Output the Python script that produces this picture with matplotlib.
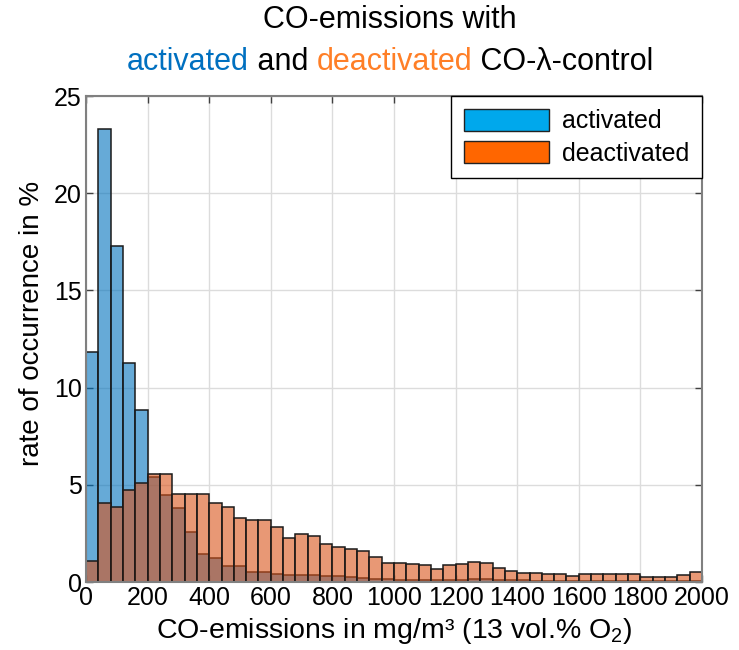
import matplotlib
matplotlib.use('Agg')
import matplotlib.pyplot as plt
import numpy as np
from matplotlib.patches import Patch

plt.rcParams['font.family'] = ['Liberation Sans', 'DejaVu Sans']
plt.rcParams['mathtext.fontset'] = 'custom'
plt.rcParams['mathtext.rm'] = 'Liberation Sans'
plt.rcParams['mathtext.default'] = 'regular'

# histogram bins (mg/m3), 40 wide
bin_edges = np.arange(0, 2001, 40)

# rate of occurrence in % per bin
activated = [11.85, 23.3, 17.27, 11.27, 8.87, 5.4, 4.46, 3.83, 2.58, 1.42,
             1.23, 0.82, 0.80, 0.53, 0.53, 0.43, 0.38, 0.38, 0.38, 0.32,
             0.29, 0.26, 0.2, 0.15, 0.15, 0.12, 0.12, 0.12, 0.12, 0.12,
             0.12, 0.15, 0.15, 0.1, 0.08, 0.08, 0.06, 0.06, 0.05, 0.05,
             0.05, 0.05, 0.05, 0.04, 0.04, 0.04, 0.04, 0.04, 0.04, 0.05]
deactivated = [1.08, 4.07, 3.85, 4.72, 5.1, 5.54, 5.57, 4.55, 4.55, 4.55,
               4.08, 3.85, 3.28, 3.19, 3.19, 2.82, 2.24, 2.45, 2.37, 1.95,
               1.81, 1.68, 1.59, 1.27, 0.99, 0.96, 0.91, 0.86, 0.68, 0.86,
               0.94, 1.01, 1.0, 0.72, 0.56, 0.48, 0.48, 0.39, 0.39, 0.31,
               0.39, 0.39, 0.39, 0.39, 0.39, 0.27, 0.27, 0.27, 0.36, 0.50]

labels = ['activated', 'deactivated']
x_ticks = list(range(0, 2001, 200))
y_ticks = [0, 5, 10, 15, 20, 25]

fig = plt.figure(figsize=(7.39, 6.5), dpi=100)
ax = fig.add_axes([86/739, 68/650, 616/739, 486/650])

centers = bin_edges[:-1] + 20
ax.hist(centers, bins=bin_edges, weights=activated,
        facecolor=(0.0, 0.447, 0.741, 0.6), edgecolor='#1a1a1a', linewidth=1.1)
ax.hist(centers, bins=bin_edges, weights=deactivated,
        facecolor=(0.851, 0.325, 0.098, 0.6), edgecolor='#1a1a1a', linewidth=1.1)

ax.set_xlim(0, 2000)
ax.set_ylim(0, 25)
ax.set_xticks(x_ticks)
ax.set_yticks(y_ticks)
ax.tick_params(direction='in', top=True, right=True, length=5, width=1,
               labelsize=18, color='#404040', pad=3)
ax.grid(True, color='#dcdcdc', linewidth=1)
ax.set_axisbelow(True)
for s in ax.spines.values():
    s.set_color('#808080')
    s.set_linewidth(1.5)

ax.set_xlabel('CO-emissions in mg/m³ (13 vol.% O$_2$)', fontsize=20.5, labelpad=4)
ax.set_ylabel('rate of occurrence in %', fontsize=20)
ax.yaxis.set_label_coords(-0.066, 0.531)

handles = [Patch(facecolor='#00A8EC', edgecolor='#222222'),
           Patch(facecolor='#FF6600', edgecolor='#222222')]
ax.legend(handles, labels, loc='upper right', bbox_to_anchor=(1, 1),
          borderaxespad=0, fancybox=False, edgecolor='black', framealpha=1,
          fontsize=18, handlelength=3.4, handleheight=1.0, handletextpad=0.55,
          borderpad=0.5, labelspacing=0.3)

# title, second line has coloured words
xc = 390 / 739
fig.text(xc, 1 - 20/650, 'CO-emissions with', ha='center', va='center', fontsize=22)
parts = ['activated', ' and ', 'deactivated', ' CO-λ-control']
cols = ['#0070C0', 'black', '#FF7F27', 'black']
fig.canvas.draw()
r = fig.canvas.get_renderer()
texts = [fig.text(0, 1 - 62/650, p, color=c, ha='left', va='center', fontsize=22)
         for p, c in zip(parts, cols)]
widths = [t.get_window_extent(r).width for t in texts]
x = xc * 739 - sum(widths) / 2
for t, w in zip(texts, widths):
    t.set_x(x / 739)
    x += w

plt.savefig('out.png', dpi=100)
